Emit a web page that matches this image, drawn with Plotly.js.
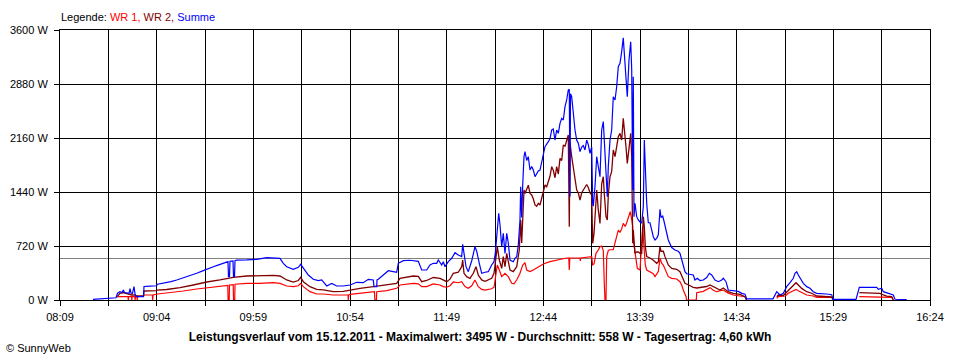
<!DOCTYPE html>
<html>
<head>
<meta charset="utf-8">
<script src="https://cdn.plot.ly/plotly-3.0.1.min.js"></script>
<style>
html,body{margin:0;padding:0;background:#fff;}
#chart{width:960px;height:360px;}
#chart .gridlayer path, #chart .minor-gridlayer path, #chart .shapelayer path{shape-rendering:crispEdges;}
</style>
</head>
<body>
<div id="chart"></div>
<script>
const day = '2011-12-15 ';
const seriesNames = ['WR 1', 'WR 2', 'Summe'];
const seriesColors = ['#ff0000', '#800000', '#0000ff'];
const average = 558;
const titleText = 'Leistungsverlauf vom 15.12.2011 - Maximalwert: 3495 W - Durchschnitt: 558 W - Tagesertrag: 4,60 kWh';
const yTickVals = [0, 720, 1440, 2160, 2880, 3600];
const yTickText = ['0 W', '720 W', '1440 W', '2160 W', '2880 W', '3600 W'];

const sumTimes = ["08:27:47","08:31:46","08:36:19","08:38:35","08:40:52","08:41:43","08:43:08","08:44:17","08:45:01","08:45:42","08:47:07","08:48:16","08:48:50","08:49:24","08:50:15","08:51:06","08:51:40","08:52:15","08:56:30","08:56:48","09:00:12","09:03:54","09:04:28","09:07:02","09:09:42","09:12:09","09:15:24","09:17:51","09:21:05","09:23:32","09:26:47","09:30:32","09:33:12","09:36:13","09:38:54","09:41:55","09:43:51","09:44:35","09:44:52","09:45:26","09:45:43","09:47:26","09:47:43","09:48:17","09:48:34","09:49:32","09:55:14","10:00:55","10:06:37","10:11:20","10:14:10","10:16:03","10:17:59","10:21:45","10:24:35","10:25:57","10:27:26","10:30:17","10:33:07","10:35:58","10:37:54","10:40:45","10:43:35","10:46:26","10:50:11","10:54:00","10:57:49","11:01:34","11:04:25","11:07:15","11:07:39","11:09:12","11:09:22","11:10:06","11:12:57","11:15:48","11:18:38","11:20:34","11:21:29","11:24:20","11:28:08","11:31:57","11:32:52","11:34:48","11:37:38","11:39:31","11:41:24","11:43:20","11:44:14","11:46:11","11:47:05","11:48:03","11:49:56","11:51:52","11:53:45","11:55:37","11:57:33","11:58:07","11:58:52","12:00:00","12:01:18","12:03:14","12:05:07","12:06:05","12:07:34","12:08:56","12:10:49","12:12:41","12:14:37","12:15:56","12:16:40","12:17:49","12:18:37","12:19:21","12:20:19","12:21:13","12:22:11","12:23:10","12:24:04","12:25:02","12:26:55","12:27:53","12:28:51","12:29:45","12:30:43","12:31:07","12:31:41","12:32:16","12:33:00","12:33:34","12:34:32","12:35:27","12:36:25","12:37:23","12:38:17","12:39:16","12:41:08","12:42:06","12:43:04","12:43:59","12:44:57","12:46:50","12:47:47","12:48:46","12:49:40","12:50:38","12:51:36","12:52:31","12:53:29","12:54:27","12:55:22","12:56:20","12:57:17","12:58:12","12:58:46","12:59:10","12:59:27","13:00:08","13:01:03","13:02:01","13:02:59","13:03:53","13:04:52","13:05:50","13:06:44","13:07:42","13:08:40","13:09:35","13:10:33","13:11:31","13:12:05","13:12:26","13:13:24","13:14:22","13:15:16","13:16:14","13:17:12","13:18:07","13:18:41","13:19:39","13:20:23","13:20:58","13:21:56","13:22:53","13:23:48","13:24:47","13:25:44","13:26:39","13:27:37","13:28:35","13:29:29","13:30:04","13:31:02","13:31:46","13:32:44","13:33:43","13:34:17","13:34:51","13:35:11","13:35:35","13:36:09","13:37:07","13:38:02","13:39:00","13:39:58","13:40:53","13:41:27","13:42:01","13:42:49","13:43:43","13:44:41","13:45:40","13:46:34","13:47:32","13:48:30","13:49:25","13:50:23","13:50:57","13:51:55","13:52:40","13:53:48","13:55:06","13:57:02","13:58:55","14:00:47","14:01:45","14:02:43","14:03:38","14:04:36","14:05:34","14:07:27","14:09:19","14:10:17","14:11:36","14:13:08","14:15:01","14:16:57","14:18:26","14:19:47","14:21:40","14:23:33","14:25:29","14:26:23","14:27:56","14:29:14","14:31:10","14:33:03","14:34:56","14:36:52","14:38:44","14:39:43","14:47:17","14:54:41","14:56:47","14:57:41","14:58:40","15:00:32","15:01:40","15:02:28","15:04:21","15:06:13","15:07:11","15:08:10","15:09:04","15:10:02","15:11:55","15:13:51","15:15:43","15:17:36","15:19:32","15:25:14","15:28:04","15:28:59","15:41:54","15:43:47","15:53:41","15:54:35","15:56:31","15:57:26","15:59:22","16:01:14","16:03:07","16:04:05","16:10:45"];
const sumW = [8,12,18,25,30,90,111,98,133,100,98,89,150,92,89,178,85,44,44,180,185,190,210,220,231,245,267,285,311,330,356,391,420,444,465,489,511,511,311,311,515,520,311,311,525,533,535,542,564,556,556,489,444,409,436,476,422,333,276,258,267,187,222,187,187,200,236,231,276,267,178,178,267,276,333,391,378,370,489,524,530,524,515,400,400,467,489,489,533,467,511,444,511,556,631,600,578,742,600,444,378,520,711,650,489,356,370,378,467,511,622,978,1156,1000,711,889,622,889,760,533,511,556,578,733,1067,1511,1100,1533,1911,1978,1860,1911,1733,1780,1733,1644,1720,1733,1844,1933,2044,2111,2150,2267,2280,2133,2267,2222,2356,2422,2400,2578,2667,2800,2809,1380,2750,2711,2489,2267,2133,2090,1978,2040,2060,2000,2133,2070,1956,2040,1289,1250,1520,1911,1780,1644,2267,2378,2133,1689,1378,1778,2133,2267,2711,2667,2844,3111,3156,3311,3495,3289,2933,2711,3200,3444,3067,1467,2978,1111,1289,1111,1067,1040,1030,1244,2133,1822,1289,1030,1030,933,844,800,822,870,1209,1100,1120,1050,933,800,700,667,650,622,540,450,378,350,345,333,267,289,260,267,300,356,333,267,244,267,290,244,133,130,122,115,89,78,15,12,15,111,89,67,89,133,178,231,289,356,378,333,289,222,178,156,111,89,80,70,8,8,169,169,142,156,111,98,89,67,10,5];

const wr2Times = ["08:41:36","08:42:10","08:43:08","08:45:01","08:47:07","08:49:48","08:51:40","08:52:49","08:56:30","08:56:48","09:03:54","09:04:22","09:09:42","09:17:17","09:24:51","09:32:28","09:40:02","09:47:36","09:55:14","10:02:48","10:10:22","10:14:10","10:17:59","10:21:45","10:24:35","10:25:57","10:27:26","10:31:14","10:35:03","10:38:49","10:44:30","10:50:11","10:54:00","10:59:41","11:07:15","11:14:53","11:20:34","11:22:27","11:30:01","11:32:52","11:34:48","11:37:38","11:41:24","11:45:13","11:47:05","11:49:01","11:50:54","11:52:47","11:55:37","11:57:33","11:58:07","11:58:52","12:00:23","12:02:17","12:04:10","12:05:41","12:07:00","12:08:56","12:10:49","12:12:41","12:14:37","12:15:56","12:17:04","12:17:49","12:18:57","12:20:19","12:21:13","12:22:11","12:23:10","12:25:02","12:26:55","12:28:51","12:30:19","12:31:07","12:31:41","12:32:16","12:33:00","12:33:34","12:34:32","12:35:27","12:36:25","12:37:23","12:38:17","12:39:16","12:40:13","12:41:08","12:42:06","12:43:04","12:43:59","12:44:57","12:45:55","12:47:47","12:48:46","12:49:40","12:50:38","12:51:36","12:52:31","12:53:29","12:54:27","12:55:22","12:56:20","12:57:17","12:58:12","12:58:46","12:59:10","13:00:08","13:01:03","13:02:01","13:02:59","13:03:53","13:04:52","13:05:50","13:06:44","13:07:42","13:08:40","13:09:35","13:10:33","13:11:31","13:12:05","13:12:50","13:13:24","13:14:22","13:15:16","13:16:14","13:17:12","13:18:07","13:18:41","13:19:39","13:20:23","13:20:58","13:21:56","13:22:53","13:23:48","13:24:47","13:25:44","13:26:39","13:27:37","13:28:35","13:29:29","13:30:04","13:31:02","13:31:46","13:32:44","13:33:43","13:34:17","13:34:51","13:35:11","13:36:09","13:37:07","13:38:02","13:39:00","13:39:58","13:40:53","13:41:27","13:42:01","13:42:49","13:44:41","13:46:34","13:48:30","13:49:25","13:50:23","13:50:57","13:52:16","13:53:13","13:55:06","13:57:02","13:59:53","14:01:45","14:02:43","14:03:38","14:04:36","14:06:42","14:09:19","14:11:16","14:13:08","14:15:01","14:16:57","14:18:50","14:20:43","14:22:37","14:24:31","14:26:23","14:27:22","14:29:14","14:32:05","14:35:54","14:38:44","14:39:43","14:48:00","14:56:47","14:57:41","15:00:32","15:01:40","15:03:23","15:06:13","15:07:46","15:09:04","15:11:00","15:13:51","15:16:41","15:19:32","15:25:14","15:28:04","15:28:59","15:35:00","15:43:47","15:54:35","15:55:33","15:57:26","15:59:22","16:02:13","16:03:07"];
const wr2W = [44,67,89,98,80,67,67,53,53,120,125,133,140,164,200,240,267,302,320,329,329,320,267,240,260,302,244,178,142,135,111,115,133,156,178,200,222,289,320,315,244,260,300,289,267,244,278,356,370,444,533,356,311,289,356,444,330,267,250,267,289,356,578,711,533,422,578,444,622,400,378,444,667,1067,760,1156,1467,1420,1489,1530,1420,1400,1350,1267,1250,1290,1267,1356,1467,1533,1510,1650,1778,1730,1630,1778,1680,1889,1860,2067,2050,2133,2200,978,2100,1911,1750,1600,1467,1430,1333,1430,1467,1510,1540,1500,1430,1400,756,889,1111,1467,1200,1022,1550,1644,1420,1111,1067,1400,1644,1711,2000,1911,2044,2178,2222,2133,2422,2310,2044,1822,2044,2222,1911,756,933,622,640,640,622,622,1111,978,711,578,560,530,489,510,711,650,650,578,467,422,410,378,320,267,222,200,169,160,169,178,180,200,178,160,133,160,140,111,89,75,44,0,null,44,67,60,89,133,200,231,200,155,111,90,53,44,40,0,null,98,98,89,67,53,44,0];

const wr1Times = ["08:41:36","08:42:10","08:47:41","08:47:52","08:48:05","08:49:41","08:49:51","08:50:05","08:51:34","08:51:44","08:51:58","08:52:49","08:52:59","08:53:13","08:56:30","08:56:48","09:01:34","09:01:45","09:01:58","09:04:22","09:11:35","09:19:09","09:26:47","09:32:28","09:40:02","09:44:28","09:44:38","09:45:16","09:45:26","09:47:33","09:47:43","09:48:24","09:48:34","09:55:14","10:02:48","10:10:22","10:14:10","10:17:59","10:21:45","10:24:35","10:25:57","10:27:26","10:31:14","10:35:03","10:38:49","10:44:30","10:50:11","10:52:52","10:53:02","10:53:16","10:54:00","10:59:41","11:07:15","11:07:56","11:08:07","11:09:01","11:09:12","11:14:53","11:20:34","11:22:27","11:30:01","11:32:52","11:34:48","11:37:38","11:41:24","11:45:13","11:47:05","11:49:01","11:50:54","11:52:47","11:55:37","11:57:33","11:59:26","12:01:18","12:03:14","12:05:07","12:07:00","12:08:56","12:10:49","12:14:37","12:15:56","12:17:04","12:17:49","12:18:57","12:20:19","12:22:11","12:24:04","12:26:00","12:27:18","12:28:51","12:30:43","12:32:16","12:33:34","12:34:32","12:36:25","12:38:17","12:41:08","12:43:59","12:47:47","12:51:36","12:57:17","12:58:29","12:58:46","12:59:04","13:04:52","13:05:01","13:05:18","13:11:31","13:12:05","13:12:50","13:13:58","13:15:16","13:16:14","13:17:12","13:18:07","13:18:41","13:19:05","13:19:39","13:20:03","13:20:58","13:21:56","13:23:48","13:25:44","13:26:39","13:27:37","13:28:35","13:29:29","13:30:36","13:31:34","13:32:29","13:33:27","13:34:01","13:34:46","13:35:11","13:36:09","13:36:43","13:37:28","13:39:00","13:39:58","13:40:31","13:41:15","13:42:01","13:42:49","13:44:41","13:46:34","13:47:32","13:48:30","13:49:25","13:50:23","13:51:20","13:52:16","13:53:48","13:55:06","13:57:02","13:59:53","14:01:45","14:02:43","14:03:38","14:04:36","14:05:17","14:05:28","14:11:02","14:11:16","14:15:01","14:18:50","14:20:43","14:22:37","14:24:31","14:26:23","14:28:57","14:32:05","14:35:54","14:38:44","14:39:36","14:48:00","14:56:47","14:57:41","15:01:40","15:03:23","15:06:13","15:07:46","15:09:04","15:11:00","15:13:51","15:17:36","15:19:32","15:28:04","15:28:59","15:35:00","15:43:47","15:49:52","15:59:22","16:02:13","16:03:07"];
const wr1W = [36,44,44,0,44,44,0,44,44,0,44,44,0,44,53,67,67,0,67,80,98,120,147,164,191,195,0,0,200,205,0,0,210,222,222,231,222,187,178,190,222,178,111,80,80,67,67,67,0,67,75,89,111,111,0,0,111,124,156,200,222,215,178,178,215,200,178,170,190,240,230,244,178,156,190,267,178,142,133,150,170,400,467,400,311,356,311,222,215,267,356,467,498,400,378,400,440,480,511,533,560,560,400,560,560,520,560,578,467,480,622,667,711,720,660,222,0,0,580,660,670,670,844,933,900,950,1022,980,1040,1111,1178,1110,1000,800,622,520,422,400,844,978,711,467,400,378,350,311,340,378,556,490,467,378,311,289,280,244,200,133,80,40,0,0,98,115,165,130,111,120,133,95,67,53,44,0,null,22,44,53,89,124,142,124,100,67,53,36,33,0,null,44,44,40,36,0];

const toX = arr => arr.map(t => day + t);

const traces = [
  {x: toX(wr1Times), y: wr1W, name: seriesNames[0], type: 'scatter', mode: 'lines', line: {color: seriesColors[0], width: 1.2}, connectgaps: false},
  {x: toX(wr2Times), y: wr2W, name: seriesNames[1], type: 'scatter', mode: 'lines', line: {color: seriesColors[1], width: 1.3}, connectgaps: false},
  {x: toX(sumTimes), y: sumW, name: seriesNames[2], type: 'scatter', mode: 'lines', line: {color: seriesColors[2], width: 1.2}, connectgaps: false}
];

const legendText = 'Legende: ' + seriesNames.map((n, i) =>
  '<span style="color:' + seriesColors[i] + '">' + n + (i < seriesNames.length - 1 ? ',' : '') + '</span>').join(' ');

const axisCommon = {
  showgrid: true, gridcolor: '#000', gridwidth: 1,
  ticks: 'outside', ticklen: 5, tickcolor: '#000', tickwidth: 1,
  showline: true, linecolor: '#000', linewidth: 1, mirror: true,
  zeroline: false, automargin: false, fixedrange: true
};

const layout = {
  width: 960, height: 360,
  margin: {l: 60, r: 30, t: 30, b: 60, pad: 0},
  paper_bgcolor: '#fff', plot_bgcolor: '#fff',
  font: {family: '"Liberation Sans", Arial, sans-serif', size: 11, color: '#000'},
  showlegend: false,
  xaxis: Object.assign({}, axisCommon, {
    type: 'date',
    range: [day + '08:09', day + '16:24'],
    tick0: day + '08:09', dtick: 55 * 60000,
    tickformat: '%H:%M',
    ticklabelstandoff: 2,
    minor: {tick0: day + '08:09', dtick: 27.5 * 60000, showgrid: true, gridcolor: '#000', gridwidth: 1,
            ticks: 'outside', ticklen: 5, tickcolor: '#000', tickwidth: 1}
  }),
  yaxis: Object.assign({}, axisCommon, {
    range: [0, 3600],
    tickmode: 'array', tickvals: yTickVals, ticktext: yTickText,
    ticklabelstandoff: 4
  }),
  shapes: [{type: 'line', xref: 'paper', x0: 0, x1: 1, yref: 'y', y0: average, y1: average,
            line: {color: '#808080', width: 1}, layer: 'below'}],
  title: {text: '<b>' + titleText + '</b>', font: {size: 12, color: '#000'},
          x: 0.5, xref: 'container', xanchor: 'center', y: 1 - 337 / 360, yref: 'container', yanchor: 'middle'},
  annotations: [
    {text: legendText, xref: 'paper', yref: 'paper', x: -1 / 870, y: 1 + 13 / 270, xanchor: 'left', yanchor: 'middle',
     showarrow: false, font: {size: 11, color: '#000'}},
    {text: '© SunnyWeb', xref: 'paper', yref: 'paper', x: -56 / 870, y: -48 / 270, xanchor: 'left', yanchor: 'middle',
     showarrow: false, font: {size: 11, color: '#000'}}
  ]
};

Plotly.newPlot('chart', traces, layout, {displayModeBar: false, staticPlot: true});
</script>
</body>
</html>
